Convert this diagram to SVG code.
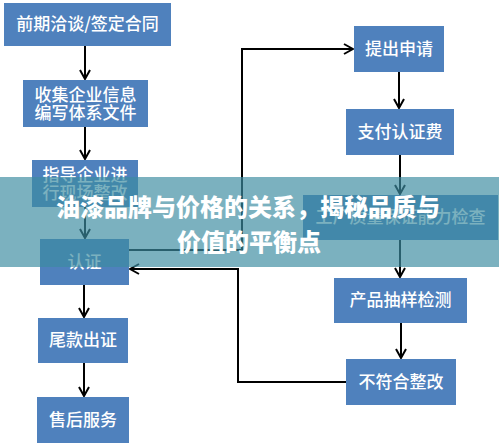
<svg xmlns="http://www.w3.org/2000/svg" width="499" height="444" viewBox="0 0 499 444">
<defs>
<style>
.box{fill:#4f81bd}
.t{fill:#fff;font-family:"Noto Sans CJK SC","Liberation Sans",sans-serif;font-size:17px;font-weight:500;text-anchor:middle}
.c{fill:none;stroke:#000;stroke-width:2}
.title{fill:#fff;font-family:"Noto Sans CJK SC","Liberation Sans",sans-serif;font-size:24px;font-weight:900;text-anchor:middle}
</style>
<marker id="ah" viewBox="0 0 12 12" refX="11" refY="6" markerWidth="12" markerHeight="12" markerUnits="userSpaceOnUse" orient="auto">
<path d="M2,1 L11,6 L2,11" fill="none" stroke="#000" stroke-width="2"/>
</marker>
</defs>
<rect width="499" height="444" fill="#fff"/>
<g id="connectors">
<path class="c" d="M85,46 V79" marker-end="url(#ah)"/>
<path class="c" d="M85,127 V159" marker-end="url(#ah)"/>
<path class="c" d="M85,207 V238" marker-end="url(#ah)"/>
<path class="c" d="M84,285 V317" marker-end="url(#ah)"/>
<path class="c" d="M84,363 V396" marker-end="url(#ah)"/>
<path class="c" d="M399,72 V108" marker-end="url(#ah)"/>
<path class="c" d="M400,155 V194" marker-end="url(#ah)"/>
<path class="c" d="M400,240 V277" marker-end="url(#ah)"/>
<path class="c" d="M401,323 V358" marker-end="url(#ah)"/>
<path class="c" d="M129,250 H242 V49 H353" marker-end="url(#ah)"/>
<path class="c" d="M346,382 H238 V269 H130" marker-end="url(#ah)"/>
</g>
<g id="n1"><rect class="box" x="4" y="3" width="167" height="43"/><text class="t" x="87.5" y="30">前期洽谈/签定合同</text></g>
<g id="n2"><rect class="box" x="23" y="80" width="125" height="47"/><text class="t" x="85.5" y="101">收集企业信息</text><text class="t" x="85.5" y="119">编写体系文件</text></g>
<g id="n3"><rect class="box" x="32" y="160" width="106" height="47"/><text class="t" x="85" y="181">指导企业进</text><text class="t" x="85" y="199">行现场整改</text></g>
<g id="n4"><rect class="box" x="40" y="239" width="89" height="46"/><text class="t" x="84.5" y="268">认证</text></g>
<g id="n5"><rect class="box" x="38" y="318" width="90" height="45"/><text class="t" x="83" y="346">尾款出证</text></g>
<g id="n6"><rect class="box" x="37" y="397" width="92" height="46"/><text class="t" x="83" y="426">售后服务</text></g>
<g id="n7"><rect class="box" x="354" y="26" width="90" height="46"/><text class="t" x="399" y="55">提出申请</text></g>
<g id="n8"><rect class="box" x="346" y="109" width="108" height="46"/><text class="t" x="400" y="138">支付认证费</text></g>
<g id="n9"><rect class="box" x="303" y="195" width="195" height="45"/><text class="t" x="400.5" y="223">工厂质量保证能力检查</text></g>
<g id="n10"><rect class="box" x="334" y="278" width="133" height="45"/><text class="t" x="400.5" y="306">产品抽样检测</text></g>
<g id="n11"><rect class="box" x="346" y="359" width="110" height="46"/><text class="t" x="401" y="388">不符合整改</text></g>
<rect x="0" y="177" width="499" height="90" fill="rgb(60,140,160)" fill-opacity="0.68"/>
<text class="title" x="248" y="216">油漆品牌与价格的关系，揭秘品质与</text>
<text class="title" x="249" y="251">价值的平衡点</text>
</svg>
